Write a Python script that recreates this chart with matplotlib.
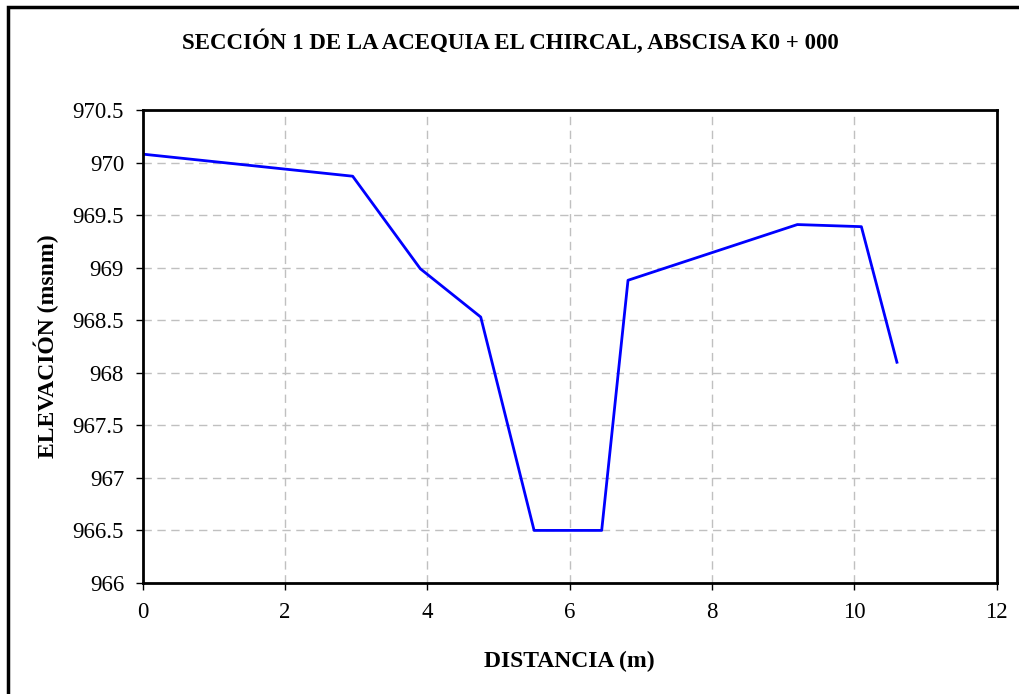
import matplotlib.pyplot as plt
from matplotlib.patches import Rectangle

distancia = [0.0, 2.95, 3.9, 4.75, 5.5, 6.45, 6.82, 9.2, 10.1, 10.6]
elevacion = [970.08, 969.87, 968.99, 968.53, 966.5, 966.5, 968.88, 969.41, 969.39, 968.1]

x_ticks = [0, 2, 4, 6, 8, 10, 12]
y_ticks = [966, 966.5, 967, 967.5, 968, 968.5, 969, 969.5, 970, 970.5]

plt.rcParams['font.family'] = ['Liberation Serif', 'DejaVu Serif']

fig = plt.figure(figsize=(10.2, 6.94), dpi=100)
ax = fig.add_axes([0.140, 0.160, 0.837, 0.6815])

ax.plot(distancia, elevacion, color='#0000ff', linewidth=2)

ax.set_xlim(0, 12)
ax.set_ylim(966, 970.5)
ax.set_xticks(x_ticks)
ax.set_yticks(y_ticks)
ax.set_xticklabels([str(v) for v in x_ticks])
ax.set_yticklabels([f"{v:g}" for v in y_ticks])
ax.tick_params(labelsize=16.5, direction='out', length=5, width=1, pad=8.5)
ax.tick_params(axis='x', pad=9)
ax.grid(True, color='#c0c0c0', linestyle=(0, (6, 4)), linewidth=1)
for s in ax.spines.values():
    s.set_linewidth(2)

ax.set_xlabel("DISTANCIA (m)", fontsize=17, fontweight='bold', labelpad=20)
ax.set_ylabel("ELEVACIÓN (msnm)", fontsize=17, fontweight='bold', labelpad=10)
fig.suptitle("SECCIÓN 1 DE LA ACEQUIA EL CHIRCAL, ABSCISA K0 + 000",
             fontsize=16.5, fontweight='bold', y=0.957)

# marco de la figura (solo bordes superior e izquierdo visibles)
fig.patches.append(Rectangle((8 / 1020, -0.05), 1.1, 1.05 - 7 / 694, transform=fig.transFigure,
                             fill=False, edgecolor='black', linewidth=2.5))

fig.savefig("out.png", dpi=100)
